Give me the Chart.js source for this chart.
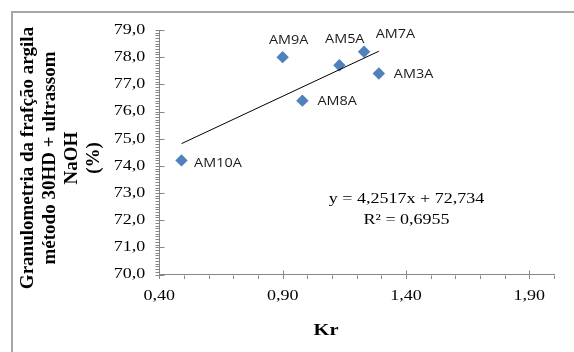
<!DOCTYPE html>
<html><head><meta charset="utf-8">
<script src="https://cdn.jsdelivr.net/npm/chart.js@4.4.1/dist/chart.umd.min.js"></script>
<style>
html,body{margin:0;padding:0;background:#fff;overflow:hidden;}
#wrap{position:relative;width:574px;height:352px;overflow:hidden;background:#fff;}
#frame{position:absolute;left:11px;top:11px;width:700px;height:500px;border-left:2px solid #a6a6a6;border-top:2px solid #a6a6a6;}
#box{position:absolute;left:0;top:0;width:574px;height:352px;}
</style></head><body>
<div id="wrap"><div id="frame"></div><div id="box"><canvas id="c"></canvas></div></div>
<script>
// ---- data ----
const sampleLabels = ['AM10A', 'AM9A', 'AM8A', 'AM5A', 'AM7A', 'AM3A'];
const krValues     = [0.49, 0.90, 0.98, 1.13, 1.23, 1.29];
const clayValues   = [74.2, 78.0, 76.4, 77.7, 78.2, 77.4];
const trendSlope = 4.2517;
const trendIntercept = 72.734;
const equationLines = ['y = 4,2517x + 72,734', 'R\u00B2 = 0,6955'];
const xTickValues = [0.40, 0.90, 1.40, 1.90];
const xAxisTitle = 'Kr';
const yAxisTitleLines = ['Granulometria da frafção argila', 'método 30HD + ultrassom', 'NaOH', '(%)'];

// ---- styling ----
const SERIF = '"Liberation Serif","Times New Roman",serif';
const TEXT_STRETCH = 1.2;
const AXIS_COLOR = '#868686';

const canvas = document.getElementById('c');
const ctx0 = canvas.getContext('2d');
const nativeFillText = ctx0.fillText;
ctx0.fillText = function (text, x, y, maxWidth) {
  const m = this.getTransform();
  if (Math.abs(m.b) > 1e-6 || Math.abs(m.c) > 1e-6) {
    return maxWidth === undefined ? nativeFillText.call(this, text, x, y) : nativeFillText.call(this, text, x, y, maxWidth);
  }
  this.save();
  this.translate(x, y);
  this.scale(TEXT_STRETCH, 1);
  if (maxWidth === undefined) nativeFillText.call(this, text, 0, 0);
  else nativeFillText.call(this, text, 0, 0, maxWidth / TEXT_STRETCH);
  this.restore();
};

const points = krValues.map((x, i) => ({ x: x, y: clayValues[i] }));
const xMinData = Math.min(...krValues), xMaxData = Math.max(...krValues);
const trendPoints = [xMinData, xMaxData].map(x => ({ x: x, y: trendIntercept + trendSlope * x }));

const tickMarks = {
  id: 'tickMarks',
  afterDraw(chart) {
    const c = chart.ctx, xs = chart.scales.x, ys = chart.scales.y;
    const ax = Math.round(xs.left) + 0.5, ay = Math.round(ys.bottom) + 0.5;
    c.save();
    c.strokeStyle = AXIS_COLOR; c.lineWidth = 1;
    c.beginPath();
    for (let k = 0; k <= 90; k++) {
      const v = 70 + k * 0.1;
      const py = Math.round(ys.getPixelForValue(v)) + 0.5;
      const major = k % 10 === 0;
      c.moveTo(ax - 4, py); c.lineTo(major ? ax + 5 : ax, py);
    }
    for (let k = 0; k <= 16; k++) {
      const v = 0.4 + k * 0.1;
      const px = Math.round(xs.getPixelForValue(v)) + 0.5;
      const major = k % 5 === 0 && k < 16;
      c.moveTo(px, major ? ay - 5 : ay); c.lineTo(px, ay + 3.5);
    }
    c.stroke();
    c.restore();
  }
};

const pointLabels = {
  id: 'pointLabels',
  afterDatasetsDraw(chart, args, opts) {
    const meta = chart.getDatasetMeta(0), c = chart.ctx;
    c.save();
    c.font = '12px "Open Sans"';
    c.fillStyle = '#1a1a1a';
    c.textAlign = 'left'; c.textBaseline = 'middle';
    meta.data.forEach((el, i) => {
      const off = opts.offsets[i];
      c.fillText(sampleLabels[i], el.x + off[0], el.y + off[1]);
    });
    c.restore();
  }
};

const textBlocks = {
  id: 'textBlocks',
  afterDraw(chart) {
    const c = chart.ctx;
    c.save();
    c.fillStyle = '#000';
    // equation
    c.font = '15px ' + SERIF;
    c.textAlign = 'center'; c.textBaseline = 'alphabetic';
    c.fillText(equationLines[0], 406.5, 203);
    c.fillText(equationLines[1], 406.5, 224);
    // x title
    c.font = 'bold 17px ' + SERIF;
    c.fillText(xAxisTitle, 326, 335);
    // y title (rotated)
    c.font = 'bold 19px ' + SERIF;
    const baselines = [33, 55, 77, 99];
    yAxisTitleLines.forEach((t, i) => {
      c.save();
      c.translate(baselines[i], 158);
      c.rotate(-Math.PI / 2);
      c.fillText(t, 0, 0);
      c.restore();
    });
    c.restore();
  }
};

new Chart(canvas, {
  type: 'scatter',
  data: {
    datasets: [
      {
        label: 'Granulometria',
        data: points,
        pointStyle: 'rectRot',
        pointRadius: 6.2,
        pointHoverRadius: 6.2,
        backgroundColor: '#4F81BD',
        borderColor: '#4F81BD',
        borderWidth: 0,
        order: 1
      },
      {
        type: 'line',
        label: 'Linear',
        data: trendPoints,
        borderColor: '#000',
        borderWidth: 1,
        pointRadius: 0,
        fill: false,
        tension: 0,
        order: 0
      }
    ]
  },
  options: {
    responsive: true,
    maintainAspectRatio: false,
    animation: false,
    events: [],
    layout: { padding: { left: 0, right: 20, top: 30, bottom: 0 } },
    plugins: {
      legend: { display: false },
      tooltip: { enabled: false },
      pointLabels: {
        offsets: [[12.6, 3], [-13.7, -16.5], [15, 0.7], [-14.3, -25.3], [11.7, -16.7], [15, 1]]
      }
    },
    scales: {
      x: {
        type: 'linear',
        min: 0.4,
        max: 2.0,
        afterBuildTicks: s => { s.ticks = xTickValues.map(v => ({ value: v })); },
        afterFit: s => { s.height = 77.5; },
        grid: { display: false, drawTicks: false },
        border: { display: true, color: AXIS_COLOR, width: 1 },
        ticks: {
          padding: 13, color: '#000', autoSkip: false, maxRotation: 0,
          font: { family: SERIF, size: 15 },
          callback: v => Number(v).toFixed(2).replace('.', ',')
        }
      },
      y: {
        type: 'linear',
        min: 70,
        max: 79,
        afterFit: s => { s.width = 159.3; },
        grid: { display: false, drawTicks: false },
        border: { display: true, color: AXIS_COLOR, width: 1 },
        ticks: {
          stepSize: 1, padding: 14, color: '#000',
          font: { family: SERIF, size: 15 },
          callback: v => Number(v).toFixed(1).replace('.', ',')
        }
      }
    }
  },
  plugins: [tickMarks, pointLabels, textBlocks]
});
</script>
</body></html>
